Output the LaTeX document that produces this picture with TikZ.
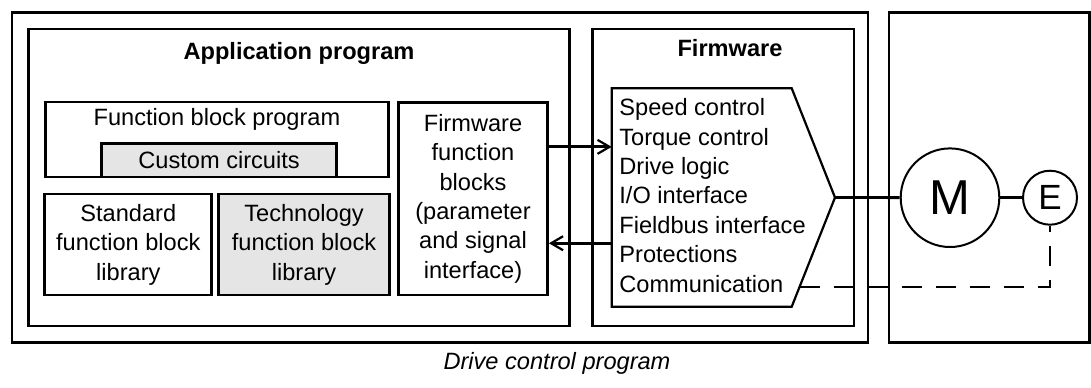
\documentclass[tikz,border=0pt]{standalone}
\usepackage{fontspec}
\setmainfont{Liberation Sans}
\usetikzlibrary{arrows.meta}

\begin{document}
\begin{tikzpicture}[
	x=0.5pt, y=-0.5pt,
	font=\fontsize{11.8}{14.7}\selectfont,
	frame/.style={draw=black, line width=1.4pt, inner sep=0pt},
	block/.style={frame, align=center},
	shaded/.style={block, fill=gray!20},
	listtext/.style={inner sep=0pt, align=left, anchor=west},
	outline/.style={draw=black, line width=1.1pt, line join=miter},
	machine/.style={circle, draw=black, line width=1pt, inner sep=0pt},
	arrow/.style={-{Straight Barb[length=6pt, width=7pt, line width=1.1pt]}, line width=1.4pt},
	link/.style={line width=1.4pt},
	dashline/.style={line width=1.1pt, dash pattern=on 10pt off 7pt}
]
\useasboundingbox (0,0) rectangle (1091,387);

% Drive control program with application program and firmware.
\node[frame, minimum width=428pt, minimum height=165pt] (drive) at (440,177.5) {};
\node[frame, minimum width=270.35pt, minimum height=148.5pt] (app) at (299.15,177.5) {};
\node[frame, minimum width=130.85pt, minimum height=148.5pt] (fw) at (723.15,177.5) {};
\node[frame, minimum width=100.25pt, minimum height=165pt] (motorbox) at (989.25,177.5) {};

\node[font=\fontsize{11.8}{14.7}\selectfont\bfseries] (apptitle) at (299,53) {Application program};
\node[font=\fontsize{11.8}{14.7}\selectfont\bfseries] (fwtitle) at (730,48) {Firmware};

\node[frame, minimum width=171.7pt, minimum height=37.5pt] (fbp) at (216.9,139.5) {};
\node (fbptext) at (217,119.5) {Function block program};
\node[shaded, minimum width=117.7pt, minimum height=16.85pt] (custom) at (219.1,160.15) {Custom circuits};
\node[block, minimum width=83.5pt, minimum height=50.5pt] (standard) at (128.3,244.5) {Standard\\function block\\library};
\node[shaded, minimum width=85.35pt, minimum height=50.5pt] (technology) at (304,244.5) {Technology\\function block\\library};
\node[block, minimum width=74.5pt, minimum height=96.35pt] (ffb) at (473,198.65) {Firmware\\function\\blocks\\(parameter\\and signal\\interface)};

% Firmware functions in the arrow-shaped block.
\draw[outline] (611.7,88.3) coordinate (pnw) -- (791.7,88.3) -- (835,197.5) coordinate (tip)
	-- (791.7,306.7) -- (611.7,306.7) -- cycle;
\node[listtext] (ctrl) at (619,195.5) {Speed control\\Torque control\\Drive logic\\I/O interface\\Fieldbus interface\\Protections\\Communication};

\node[machine, minimum size=49.3pt, font=\fontsize{24.5}{24.5}\selectfont] (motor) at (950,197.7) {M};
\node[machine, minimum size=27pt, font=\fontsize{17.5}{17.5}\selectfont] (encoder) at (1050,197.7) {E};

\coordinate (fwin) at ([yshift=25.9pt]ffb.east);
\coordinate (fwout) at ([yshift=-22.3pt]ffb.east);
\coordinate (comm) at (799.5,287);

\draw[arrow] (fwin) -- (fwin -| pnw);
\draw[arrow] (fwout -| pnw) -- (fwout);
\draw[link] (tip) -- (motor);
\draw[link] (motor) -- (encoder);
\draw[dashline] (comm) -| (encoder.south);

\node[font=\fontsize{11.8}{14.7}\selectfont\itshape] (caption) at (557,363) {Drive control program};

\end{tikzpicture}
\end{document}
